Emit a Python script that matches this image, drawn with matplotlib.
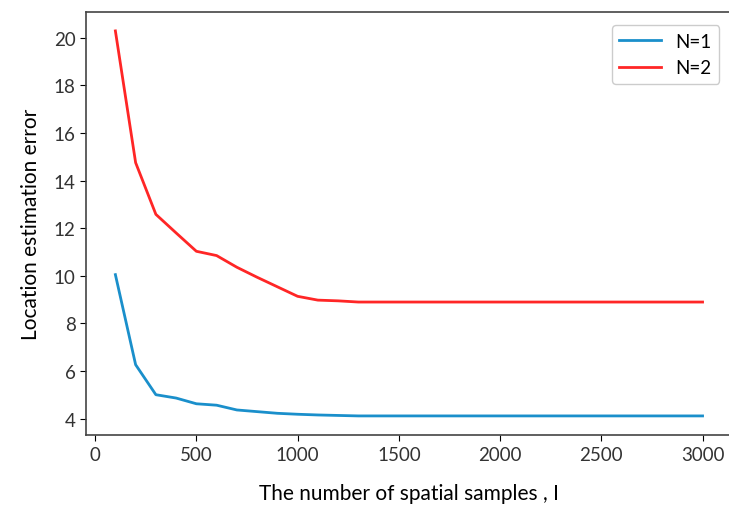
import matplotlib
matplotlib.use('Agg')
import matplotlib.pyplot as plt

plt.rcParams['font.family'] = ['Lato', 'DejaVu Sans']

samples = [100, 200, 300, 400, 500, 600, 700, 800, 900, 1000, 1100, 1200, 1300,
           1500, 2000, 2500, 3000]
err_n1 = [10.05, 6.27, 5.01, 4.87, 4.63, 4.57, 4.37, 4.30, 4.23, 4.19, 4.16, 4.14, 4.12,
          4.12, 4.12, 4.12, 4.12]
err_n2 = [20.28, 14.75, 12.58, 11.80, 11.03, 10.85, 10.36, 9.94, 9.54, 9.14, 8.98, 8.95, 8.90,
          8.90, 8.90, 8.90, 8.90]
xticks = [0, 500, 1000, 1500, 2000, 2500, 3000]
yticks = [4, 6, 8, 10, 12, 14, 16, 18, 20]

fig = plt.figure(figsize=(7.29, 5.06), dpi=100)
ax = fig.add_axes([0.118, 0.138, 0.886, 0.837])

ax.plot(samples, err_n1, color='#1a8fcb', linewidth=2, label='N=1')
ax.plot(samples, err_n2, color='#ff2626', linewidth=2, label='N=2')

ax.set_xticks(xticks)
ax.set_yticks(yticks)
ax.tick_params(labelsize=13.5, labelcolor='#333333', length=4)
for s in ax.spines.values():
    s.set_color('#444444')
    s.set_linewidth(1.2)

ax.set_xlabel('The number of spatial samples , I', fontsize=15, labelpad=15)
ax.set_ylabel('Location estimation error', fontsize=15, labelpad=9)
ax.legend(loc='upper right', fontsize=13.5, handlelength=2.2, framealpha=1,
          bbox_to_anchor=(0.995, 0.99))

fig.savefig('out.png', dpi=100)
